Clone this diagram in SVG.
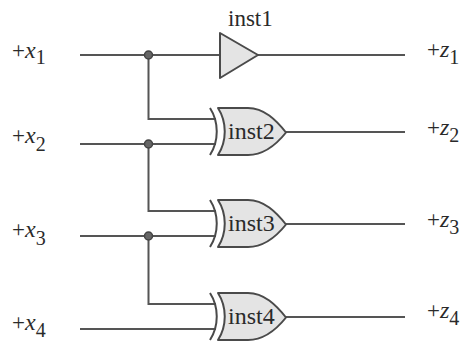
<svg xmlns="http://www.w3.org/2000/svg" width="465" height="343" viewBox="0 0 465 343">
<style>
.w{fill:none;stroke:#555;stroke-width:2}
.g{fill:#e4e4e4;stroke:#4a4a4a;stroke-width:2;stroke-linejoin:round}
.a{fill:none;stroke:#4a4a4a;stroke-width:2}
.d{fill:#666;stroke:#444;stroke-width:1.5}
text{font-family:"Liberation Serif","Times New Roman",serif;fill:#2a2a2a}
.l{font-size:23px}
.n{font-size:24px}
.i{font-style:italic;font-size:24px}
.s{font-size:20px}
</style>
<defs>
<g id="xor">
<path class="g" d="M218 108H248C264 108 276 120 286 132.500C276 145 264 155 248 155H218C227 141 227 122 218 108Z"/>
<path class="a" d="M210 108C219 122 219 141 210 155"/>
</g>
</defs>
<g id="connectors">
<path class="w" d="M80 55H220M258 55H405M148.500 55V119H216M80 144H216M286 132H405M148.500 144V211H216M80 236H216M286 224H405M148.500 236V304H216M80 329H216M286 317H405"/>
<circle class="d" cx="148.500" cy="55" r="4"/>
<circle class="d" cx="148.500" cy="144" r="4"/>
<circle class="d" cx="148.500" cy="236" r="4"/>
</g>
<g id="inst1">
<path class="g" d="M220 33L258 55L220 78Z"/>
<text x="228" y="26" class="n" style="font-size:23px">inst1</text>
</g>
<g id="inst2"><use href="#xor"/><text x="228" y="139" class="n">inst2</text></g>
<g id="inst3"><use href="#xor" y="92"/><text x="228" y="231" class="n">inst3</text></g>
<g id="inst4"><use href="#xor" y="185"/><text x="228" y="324" class="n">inst4</text></g>
<g id="x1"><text x="12" y="58" class="l">+<tspan class="i">x</tspan><tspan class="s" dy="6">1</tspan></text></g>
<g id="x2"><text x="12" y="143" class="l">+<tspan class="i">x</tspan><tspan class="s" dy="8">2</tspan></text></g>
<g id="x3"><text x="12" y="237" class="l">+<tspan class="i">x</tspan><tspan class="s" dy="8">3</tspan></text></g>
<g id="x4"><text x="12" y="330" class="l">+<tspan class="i">x</tspan><tspan class="s" dy="7">4</tspan></text></g>
<g id="z1"><text x="427" y="57" class="l">+<tspan class="i">z</tspan><tspan class="s" dy="7">1</tspan></text></g>
<g id="z2"><text x="427" y="135" class="l">+<tspan class="i">z</tspan><tspan class="s" dy="7">2</tspan></text></g>
<g id="z3"><text x="427" y="227" class="l">+<tspan class="i">z</tspan><tspan class="s" dy="7">3</tspan></text></g>
<g id="z4"><text x="427" y="318" class="l">+<tspan class="i">z</tspan><tspan class="s" dy="7">4</tspan></text></g>
</svg>
